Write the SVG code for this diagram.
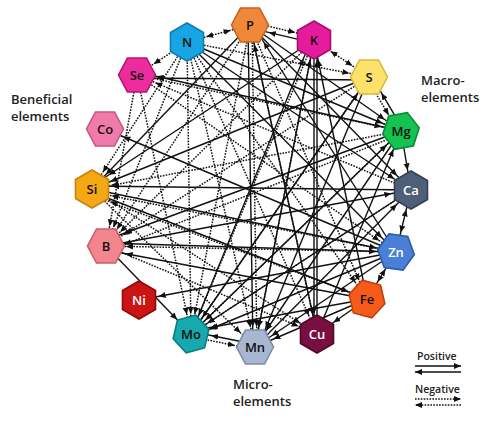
<svg xmlns="http://www.w3.org/2000/svg" width="497" height="425" viewBox="0 0 497 425">
<style>
.s{stroke:#111;stroke-width:1.4;fill:none;marker-end:url(#ah)}
.d{stroke:#111;stroke-width:1.5;stroke-dasharray:1.6 1.3;fill:none;marker-end:url(#ah)}
.b{marker-start:url(#ah)}
.ls{stroke:#111;stroke-width:1.4;marker-end:url(#lh)}
.ld{stroke:#111;stroke-width:1.5;stroke-dasharray:1.6 1.3;marker-end:url(#lh)}
.node text{font-family:"Open Sans","Liberation Sans",sans-serif;font-size:13px;font-weight:600;text-anchor:middle;fill:#111}
.node text.w{fill:#fff}
.hx{stroke-width:1.6}
.lab{font-family:"Open Sans","Liberation Sans",sans-serif;font-size:13px;font-weight:600;fill:#222}
.leg{font-family:"Open Sans","Liberation Sans",sans-serif;font-size:10.5px;font-weight:600;fill:#222}
</style>
<defs>
<marker id="ah" markerUnits="userSpaceOnUse" markerWidth="30" markerHeight="8" viewBox="0 0 30 8" refX="27" refY="4" orient="auto-start-reverse"><path d="M0,1 L7,4 L0,7 z" fill="#111"/></marker>
<marker id="lh" markerUnits="userSpaceOnUse" markerWidth="8" markerHeight="8" viewBox="0 0 8 8" refX="7" refY="4" orient="auto-start-reverse"><path d="M0,1 L7,4 L0,7 z" fill="#111"/></marker>
<polygon id="hf" points="18.5,0 9.5,17 -9.5,17 -18.5,0 -9.5,-17 9.5,-17"/>
<polygon id="hp" points="0,-19 16.5,-9.5 16.5,9.5 0,19 -16.5,9.5 -16.5,-9.5"/>
</defs>
<rect width="497" height="425" fill="#fff"/>
<g id="connectors">
<line class="d b" x1="187" y1="42" x2="250" y2="25"/>
<line class="d" x1="250.7" y1="22.1" x2="314.7" y2="37.1"/>
<line class="s" x1="313.3" y1="42.9" x2="249.3" y2="27.9"/>
<line class="d b" x1="314" y1="40" x2="369" y2="77"/>
<line class="d" x1="366.9" y1="78.3" x2="398.9" y2="132.3"/>
<line class="s" x1="403.2" y1="129.7" x2="371.2" y2="75.7"/>
<line class="s" x1="401" y1="131" x2="411" y2="190"/>
<line class="s b" x1="411" y1="190" x2="396" y2="252"/>
<line class="s b" x1="396" y1="252" x2="367" y2="299"/>
<line class="s" x1="367" y1="299" x2="317" y2="334"/>
<line class="s" x1="255.5" y1="344.5" x2="191.5" y2="331.5"/>
<line class="d" x1="190.5" y1="336.5" x2="254.5" y2="349.5"/>
<line class="d" x1="187" y1="42" x2="137" y2="75"/>
<line class="s" x1="369" y1="80" x2="137" y2="78"/>
<line class="s" x1="401" y1="131" x2="137" y2="72"/>
<line class="s" x1="396" y1="252" x2="105" y2="129"/>
<line class="s" x1="314" y1="40" x2="92" y2="186"/>
<line class="s" x1="369" y1="77" x2="92" y2="189"/>
<line class="s" x1="92" y1="192" x2="367" y2="299"/>
<line class="s" x1="411" y1="190" x2="92" y2="186"/>
<line class="s" x1="367" y1="299" x2="106" y2="250"/>
<line class="s" x1="106" y1="246" x2="191" y2="334"/>
<line class="s" x1="396" y1="252" x2="139" y2="300"/>
<line class="s" x1="248" y1="25" x2="253" y2="347"/>
<line class="s" x1="314" y1="40" x2="314" y2="334"/>
<line class="s" x1="367" y1="299" x2="191" y2="331"/>
<line class="s" x1="396" y1="252" x2="191" y2="337"/>
<line class="s" x1="411" y1="190" x2="191" y2="334"/>
<line class="s" x1="401" y1="131" x2="255" y2="347"/>
<line class="s" x1="369" y1="77" x2="258" y2="347"/>
<line class="s" x1="250" y1="25" x2="401" y2="131"/>
<line class="s" x1="250" y1="25" x2="411" y2="190"/>
<line class="s" x1="187" y1="42" x2="401" y2="131"/>
<line class="s" x1="187" y1="42" x2="411" y2="190"/>
<line class="s" x1="255" y1="347" x2="314" y2="40"/>
<line class="s" x1="191" y1="334" x2="311" y2="40"/>
<line class="s" x1="106" y1="246" x2="411" y2="190"/>
<line class="s" x1="106" y1="243" x2="396" y2="252"/>
<line class="s" x1="317" y1="334" x2="401" y2="131"/>
<line class="s" x1="317" y1="334" x2="250" y2="25"/>
<line class="s" x1="191" y1="334" x2="369" y2="77"/>
<line class="s" x1="396" y1="252" x2="253" y2="25"/>
<line class="s" x1="401" y1="131" x2="106" y2="240"/>
<line class="s" x1="250" y1="25" x2="92" y2="189"/>
<line class="s" x1="255" y1="347" x2="411" y2="190"/>
<line class="s" x1="317" y1="334" x2="317" y2="40"/>
<line class="s" x1="367" y1="299" x2="255" y2="347"/>
<line class="s" x1="396" y1="252" x2="255" y2="347"/>
<line class="s" x1="187" y1="42" x2="396" y2="252"/>
<line class="s" x1="191" y1="334" x2="401" y2="131"/>
<line class="s" x1="92" y1="189" x2="396" y2="252"/>
<line class="s" x1="367" y1="299" x2="314" y2="40"/>
<line class="d" x1="411" y1="190" x2="137" y2="75"/>
<line class="d" x1="187" y1="42" x2="191" y2="334"/>
<line class="d" x1="137" y1="75" x2="191" y2="334"/>
<line class="d" x1="250" y1="25" x2="191" y2="334"/>
<line class="d" x1="250" y1="25" x2="106" y2="246"/>
<line class="d" x1="187" y1="42" x2="106" y2="246"/>
<line class="d" x1="314" y1="40" x2="106" y2="246"/>
<line class="d" x1="137" y1="75" x2="106" y2="246"/>
<line class="d" x1="252" y1="25" x2="257" y2="347"/>
<line class="d" x1="187" y1="42" x2="317" y2="334"/>
<line class="d" x1="187" y1="42" x2="367" y2="299"/>
<line class="d" x1="250" y1="25" x2="317" y2="334"/>
<line class="d" x1="250" y1="25" x2="367" y2="299"/>
<line class="d" x1="314" y1="40" x2="191" y2="334"/>
<line class="d" x1="314" y1="40" x2="255" y2="347"/>
<line class="d" x1="369" y1="77" x2="106" y2="246"/>
<line class="d" x1="401" y1="131" x2="92" y2="189"/>
<line class="d" x1="401" y1="134" x2="106" y2="252"/>
<line class="d" x1="411" y1="190" x2="191" y2="334"/>
<line class="d" x1="396" y1="252" x2="106" y2="246"/>
<line class="d" x1="92" y1="189" x2="317" y2="334"/>
<line class="d" x1="187" y1="42" x2="255" y2="347"/>
<line class="d" x1="137" y1="75" x2="396" y2="252"/>
<line class="d" x1="396" y1="252" x2="92" y2="192"/>
<line class="d" x1="367" y1="299" x2="92" y2="195"/>
<line class="d" x1="369" y1="77" x2="191" y2="334"/>
<line class="d" x1="401" y1="131" x2="191" y2="334"/>
<line class="d" x1="92" y1="189" x2="255" y2="347"/>
<line class="d" x1="106" y1="246" x2="317" y2="334"/>
<line class="d" x1="187" y1="42" x2="92" y2="189"/>
<line class="d" x1="137" y1="75" x2="401" y2="131"/>
<line class="d" x1="187" y1="42" x2="369" y2="77"/>
</g>
<g id="node-P" class="node"><use href="#hf" x="250" y="25" class="hx" fill="#F0883A" stroke="#C8621E"/><text x="250" y="30">P</text></g>
<g id="node-N" class="node"><use href="#hp" x="187" y="42" class="hx" fill="#17A6E3" stroke="#0E7CB0"/><text x="187" y="47">N</text></g>
<g id="node-K" class="node"><use href="#hp" x="314" y="40" class="hx" fill="#E41C9C" stroke="#A80E72"/><text x="314" y="45">K</text></g>
<g id="node-S" class="node"><use href="#hf" x="369" y="77" class="hx" fill="#FCE26A" stroke="#D8B93A"/><text x="369" y="82">S</text></g>
<g id="node-Mg" class="node"><use href="#hf" x="401" y="131" class="hx" fill="#13C24F" stroke="#0A8A35" transform="rotate(-10 401 131)"/><text x="401" y="136">Mg</text></g>
<g id="node-Ca" class="node"><use href="#hp" x="411" y="190" class="hx" fill="#4F5F78" stroke="#33405A"/><text x="411" y="195" class="w">Ca</text></g>
<g id="node-Zn" class="node"><use href="#hf" x="396" y="252" class="hx" fill="#4A7FD8" stroke="#2C5AA8" transform="rotate(8 396 252)"/><text x="396" y="257" class="w">Zn</text></g>
<g id="node-Fe" class="node"><use href="#hf" x="367" y="299" class="hx" fill="#F65B1A" stroke="#C23E0A" transform="rotate(15 367 299)"/><text x="367" y="304">Fe</text></g>
<g id="node-Cu" class="node"><use href="#hp" x="317" y="334" class="hx" fill="#780F40" stroke="#500828"/><text x="317" y="339" class="w">Cu</text></g>
<g id="node-Mn" class="node"><use href="#hf" x="255" y="347" class="hx" fill="#A8B7CF" stroke="#7C8CA8"/><text x="255" y="352">Mn</text></g>
<g id="node-Mo" class="node"><use href="#hf" x="191" y="334" class="hx" fill="#16A9AE" stroke="#0D7C80" transform="rotate(-15 191 334)"/><text x="191" y="339">Mo</text></g>
<g id="node-Ni" class="node"><use href="#hp" x="139" y="300" class="hx" fill="#CB1414" stroke="#8E0A0A"/><text x="139" y="305" class="w">Ni</text></g>
<g id="node-B" class="node"><use href="#hf" x="106" y="246" class="hx" fill="#F2858E" stroke="#C85E68"/><text x="106" y="251">B</text></g>
<g id="node-Si" class="node"><use href="#hp" x="92" y="189" class="hx" fill="#F5A816" stroke="#C8820A"/><text x="92" y="194">Si</text></g>
<g id="node-Co" class="node"><use href="#hf" x="105" y="129" class="hx" fill="#F07BAA" stroke="#C85585"/><text x="105" y="134">Co</text></g>
<g id="node-Se" class="node"><use href="#hf" x="137" y="75" class="hx" fill="#EC2B9C" stroke="#B01572"/><text x="137" y="80">Se</text></g>
<g id="labels">
<text class="lab" x="11" y="104">Beneficial</text>
<text class="lab" x="11" y="121">elements</text>
<text class="lab" x="421" y="85">Macro-</text>
<text class="lab" x="421" y="102">elements</text>
<text class="lab" x="233" y="389">Micro-</text>
<text class="lab" x="233" y="406">elements</text>
</g>
<g id="legend">
<text class="leg" x="417" y="360">Positive</text>
<line class="ls" x1="415" y1="366" x2="461" y2="366"/>
<line class="ls" x1="461" y1="372" x2="415" y2="372"/>
<text class="leg" x="415" y="393">Negative</text>
<line class="ld" x1="415" y1="399" x2="461" y2="399"/>
<line class="ld" x1="461" y1="405" x2="415" y2="405"/>
</g>
</svg>
